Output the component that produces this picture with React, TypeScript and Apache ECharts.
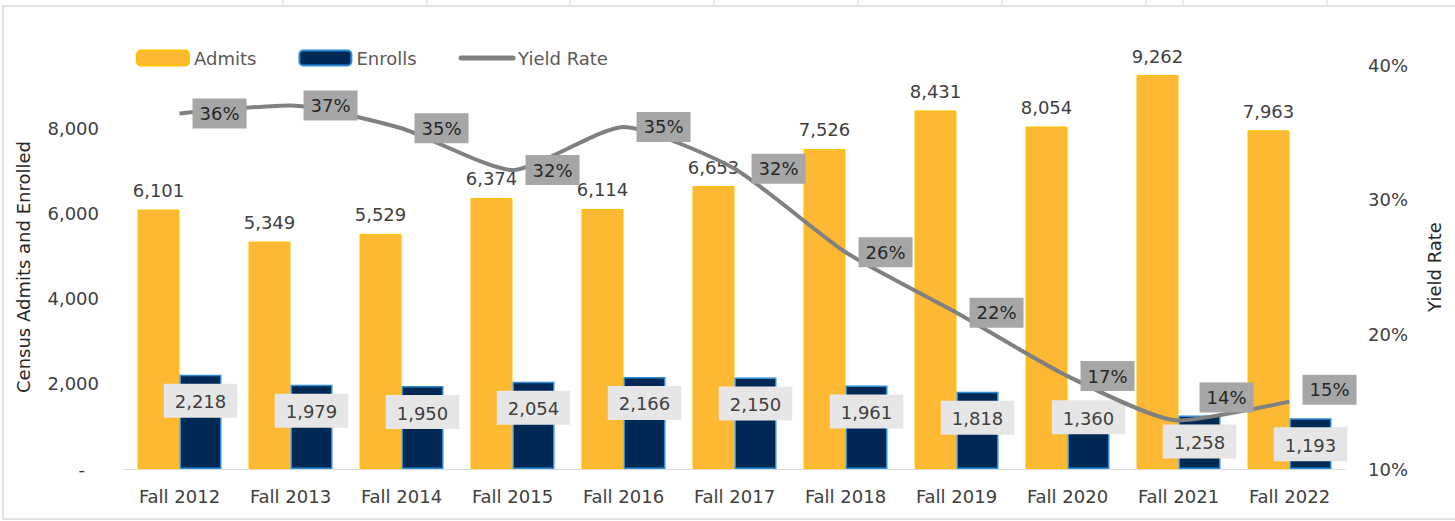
import React, { useEffect, useRef } from "react";
import * as echarts from "echarts";

const categories = [
  "Fall 2012", "Fall 2013", "Fall 2014", "Fall 2015", "Fall 2016", "Fall 2017",
  "Fall 2018", "Fall 2019", "Fall 2020", "Fall 2021", "Fall 2022",
];
const admits = [6101, 5349, 5529, 6374, 6114, 6653, 7526, 8431, 8054, 9262, 7963];
const enrolls = [2218, 1979, 1950, 2054, 2166, 2150, 1961, 1818, 1360, 1258, 1193];
const yieldRate = [36.4, 37.0, 35.3, 32.2, 35.4, 32.3, 26.1, 21.6, 16.9, 13.6, 15.0];

const FONT = "'DejaVu Sans', 'Open Sans', sans-serif";
const FS = 18;
const fmt = (v: number) => v.toLocaleString("en-US");

// label nudges (styling only)
const enrollLabelOffset: Record<number, [number, number]> = { 8: [0, -20] };
const yieldLabelOffset: Record<number, [number, number]> = { 5: [4, 0], 9: [8, -23], 10: [0, -12] };

export default function App() {
  const ref = useRef<HTMLDivElement>(null);
  useEffect(() => {
    if (!ref.current) return;
    const chart = echarts.init(ref.current, undefined, { renderer: "svg" });
    const sheetLines = [283, 427, 570, 714, 858, 1002, 1146, 1183, 1327].map((x) => ({
      type: "line",
      shape: { x1: x, y1: 0, x2: x, y2: 6 },
      style: { stroke: "#d9d9d9", lineWidth: 1 },
      silent: true,
    }));
    chart.setOption({
      animation: false,
      backgroundColor: "#ffffff",
      textStyle: { fontFamily: FONT },
      graphic: [
        {
          type: "rect",
          shape: { x: 3, y: 6, width: 1460, height: 513 },
          style: { fill: "none", stroke: "#d9d9d9", lineWidth: 1.5 },
          silent: true,
          z: -10,
        },
        ...sheetLines,
      ],
      legend: {
        left: 131,
        top: 44,
        itemWidth: 52,
        itemHeight: 15,
        itemGap: 42,
        textStyle: { fontFamily: FONT, fontSize: FS, color: "#595959" },
        data: [
          "Admits",
          "Enrolls",
          {
            name: "Yield Rate",
            itemStyle: { opacity: 0 },
            lineStyle: { width: 5, color: "#808080", cap: "round" },
          },
        ],
      },
      grid: { left: 124, right: 110, top: 65, bottom: 52 },
      xAxis: {
        type: "category",
        data: categories,
        axisLine: { lineStyle: { color: "#d9d9d9", width: 1 } },
        axisTick: { show: false },
        axisLabel: { color: "#404040", fontSize: FS, fontFamily: FONT, margin: 18 },
      },
      yAxis: [
        {
          type: "value",
          min: 0,
          max: 9500,
          interval: 2000,
          name: "Census Admits and Enrolled",
          nameLocation: "middle",
          nameGap: 92,
          nameTextStyle: { color: "#262626", fontSize: FS, fontFamily: FONT },
          axisLine: { show: false },
          axisTick: { show: false },
          splitLine: { show: false },
          axisLabel: {
            color: "#404040",
            fontSize: FS,
            fontFamily: FONT,
            margin: 25,
            formatter: (v: number) => (v % 2000 !== 0 ? "" : v === 0 ? "{z|-}" : fmt(v)),
            rich: { z: { fontSize: FS, color: "#404040", padding: [0, 14, 0, 0] } },
          },
        },
        {
          type: "value",
          min: 10,
          max: 40,
          interval: 10,
          name: "Yield Rate",
          nameLocation: "middle",
          nameGap: 80,
          nameTextStyle: { color: "#262626", fontSize: FS, fontFamily: FONT },
          axisLine: { show: false },
          axisTick: { show: false },
          splitLine: { show: false },
          axisLabel: {
            color: "#404040",
            fontSize: FS,
            fontFamily: FONT,
            margin: 23,
            formatter: (v: number) => `${v}%`,
          },
        },
      ],
      series: [
        {
          name: "Admits",
          type: "bar",
          barWidth: 42,
          barGap: "0%",
          data: admits,
          itemStyle: { color: "#FDB933", borderColor: "#FFC000", borderWidth: 1 },
          label: {
            show: true,
            position: "top",
            distance: 10,
            color: "#404040",
            fontSize: FS,
            fontFamily: FONT,
            formatter: (p: any) => fmt(p.value),
          },
          z: 2,
        },
        {
          name: "Enrolls",
          type: "bar",
          barWidth: 42,
          data: enrolls.map((v, i) =>
            enrollLabelOffset[i] ? { value: v, label: { offset: enrollLabelOffset[i] } } : v
          ),
          itemStyle: { color: "#002855", borderColor: "#2E8BD8", borderWidth: 1.5 },
          label: {
            show: true,
            position: "insideTop",
            distance: 9,
            color: "#404040",
            fontSize: FS,
            fontFamily: FONT,
            backgroundColor: "#E7E6E6",
            padding: [9, 11, 7, 11],
            formatter: (p: any) => fmt(p.value),
          },
          z: 3,
        },
        {
          name: "Yield Rate",
          type: "line",
          yAxisIndex: 1,
          smooth: 0.2,
          symbol: "circle",
          symbolSize: 0.1,
          showSymbol: true,
          data: yieldRate.map((v, i) =>
            yieldLabelOffset[i] ? { value: v, label: { offset: yieldLabelOffset[i] } } : v
          ),
          lineStyle: { color: "#808080", width: 4 },
          itemStyle: { color: "#808080" },
          label: {
            show: true,
            position: "right",
            distance: 13,
            color: "#262626",
            fontSize: FS,
            fontFamily: FONT,
            backgroundColor: "#A6A6A6",
            padding: [7, 7, 5, 7],
            formatter: (p: any) => `${Math.round(p.value)}%`,
          },
          z: 5,
        },
      ],
    });
    return () => chart.dispose();
  }, []);
  return (
    <div
      ref={ref}
      style={{ position: "fixed", left: 0, top: 0, width: 1455, height: 521 }}
    />
  );
}
